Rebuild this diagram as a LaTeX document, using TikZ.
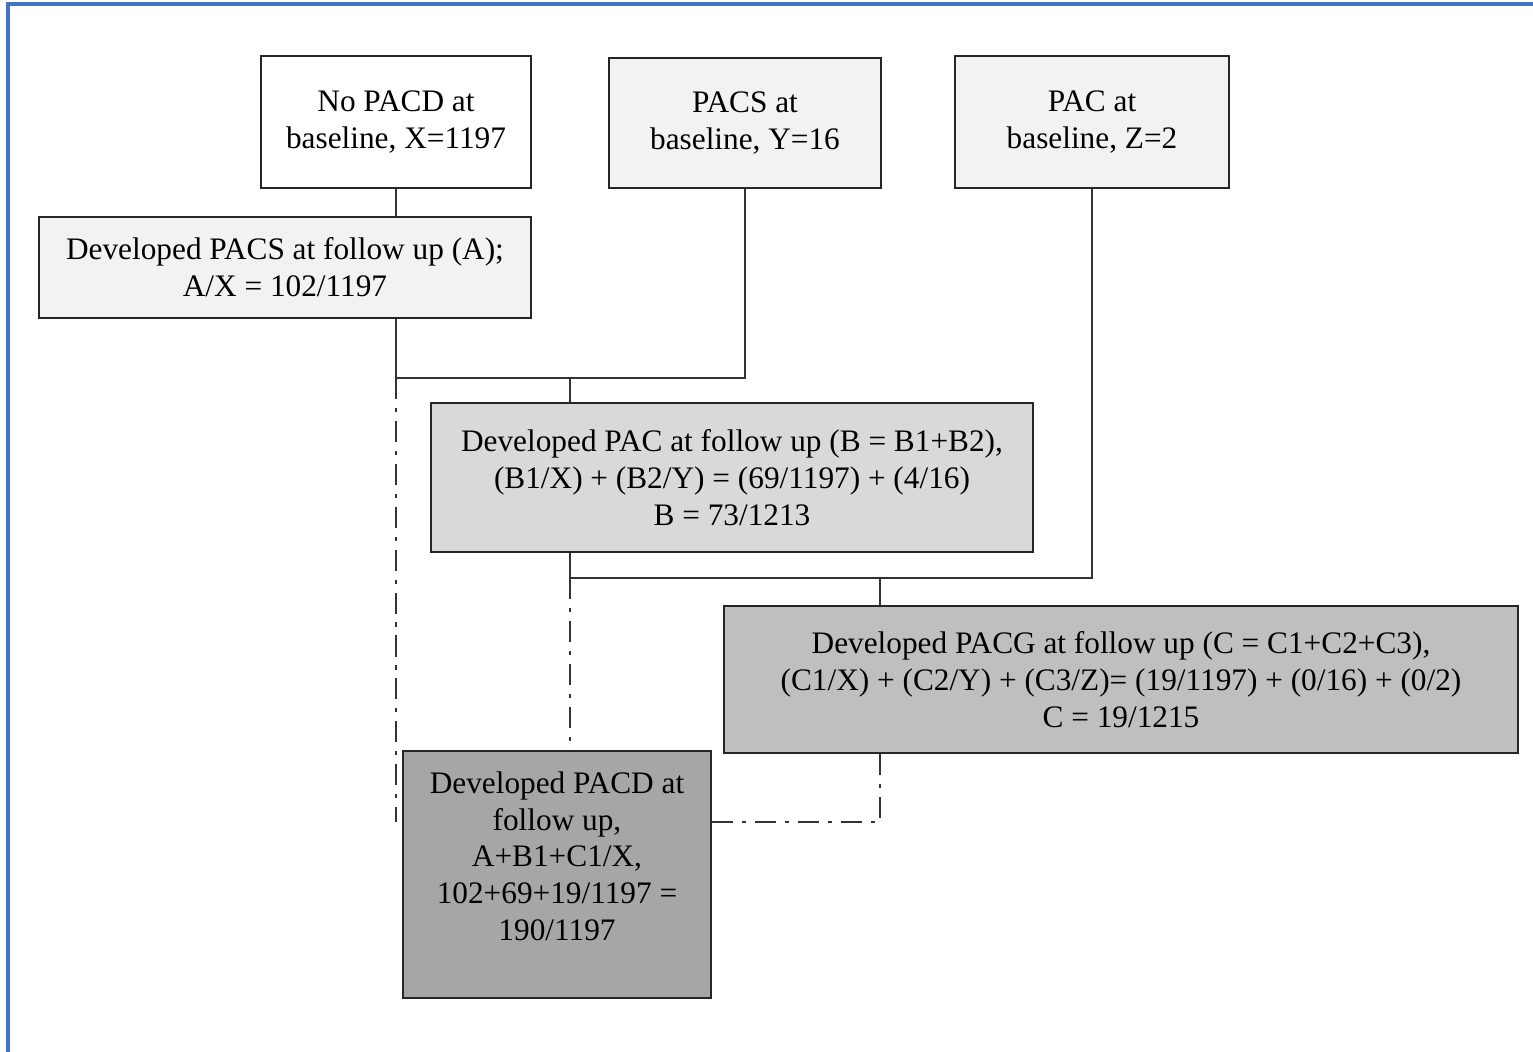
\documentclass[tikz,border=0pt]{standalone}
\usepackage{fontspec}
\setmainfont{Liberation Serif}
\usetikzlibrary{positioning}
\definecolor{frameblue}{RGB}{68,114,196}
\definecolor{fillA}{HTML}{F2F2F2}
\definecolor{fillB}{HTML}{D9D9D9}
\definecolor{fillC}{HTML}{BFBFBF}
\definecolor{fillD}{HTML}{A6A6A6}
\tikzset{box/.style={rectangle,draw=black!85,line width=0.7pt,align=center,inner sep=0pt,font=\fontsize{8.9}{10.5}\selectfont},
link/.style={draw=black!80,line width=0.75pt},
dashlink/.style={draw=black!80,line width=0.8pt,dash pattern=on 6pt off 2.5pt on 1.2pt off 2.5pt}}

\begin{document}
\begin{tikzpicture}[x=0.01cm,y=-0.01cm]
        \useasboundingbox (0,0) rectangle (1533,1052);
        \draw[frameblue,line width=0.9pt] (8,1052) -- (8,4) -- (1533,4);

        \node[box,fill=white,minimum width=2.70cm,minimum height=1.32cm] (nopacd) at (396,122) {No PACD at\\baseline, X=1197};
        \node[box,fill=fillA,minimum width=2.72cm,minimum height=1.30cm] (pacs) at (745,123) {PACS at\\baseline, Y=16};
        \node[box,fill=fillA,minimum width=2.74cm,minimum height=1.32cm] (pac) at (1092,122) {PAC at\\baseline, Z=2};
        \node[box,fill=fillA,minimum width=4.92cm,minimum height=1.01cm] (devA) at (285,267.5) {Developed PACS at follow up (A);\\A/X = 102/1197};
        \node[box,fill=fillB,minimum width=6.02cm,minimum height=1.49cm] (devB) at (732,477.5) {Developed PAC at follow up (B = B1+B2),\\(B1/X) + (B2/Y) = (69/1197) + (4/16)\\B = 73/1213};
        \node[box,fill=fillC,minimum width=7.94cm,minimum height=1.47cm] (devC) at (1121,679.5) {Developed PACG at follow up (C = C1+C2+C3),\\(C1/X) + (C2/Y) + (C3/Z)= (19/1197) + (0/16) + (0/2)\\C = 19/1215};
        \node[box,fill=fillD,minimum width=3.08cm,minimum height=2.47cm,
              label={[anchor=north,align=center,inner sep=0pt,yshift=-0.21cm,font=\fontsize{8.9}{10.5}\selectfont]north:Developed PACD at\\follow up,\\A+B1+C1/X,\\102+69+19/1197 =\\190/1197}] (devD) at (557,874.5) {};

        \coordinate (j1) at (396,378);
        \coordinate (jB) at (570,378);
        \coordinate (j2) at (570,578);
        \coordinate (jC) at (880,578);
        \coordinate (jD) at (396,822);

        \draw[link] (nopacd.south) -- (nopacd.south |- devA.north);
        \draw[link] (devA.south -| j1) -- (j1) -| (pacs.south);
        \draw[link] (jB) -- (jB |- devB.north);
        \draw[link] (devB.south -| j2) -- (j2) -| (pac.south);
        \draw[link] (jC) -- (jC |- devC.north);

        \draw[dashlink] (j1) -- (jD);
        \draw[dashlink] (j2) -- (j2 |- devD.north);
        \draw[dashlink] (devC.south -| jC) |- (devD.east |- jD);
    \end{tikzpicture}
\end{document}
